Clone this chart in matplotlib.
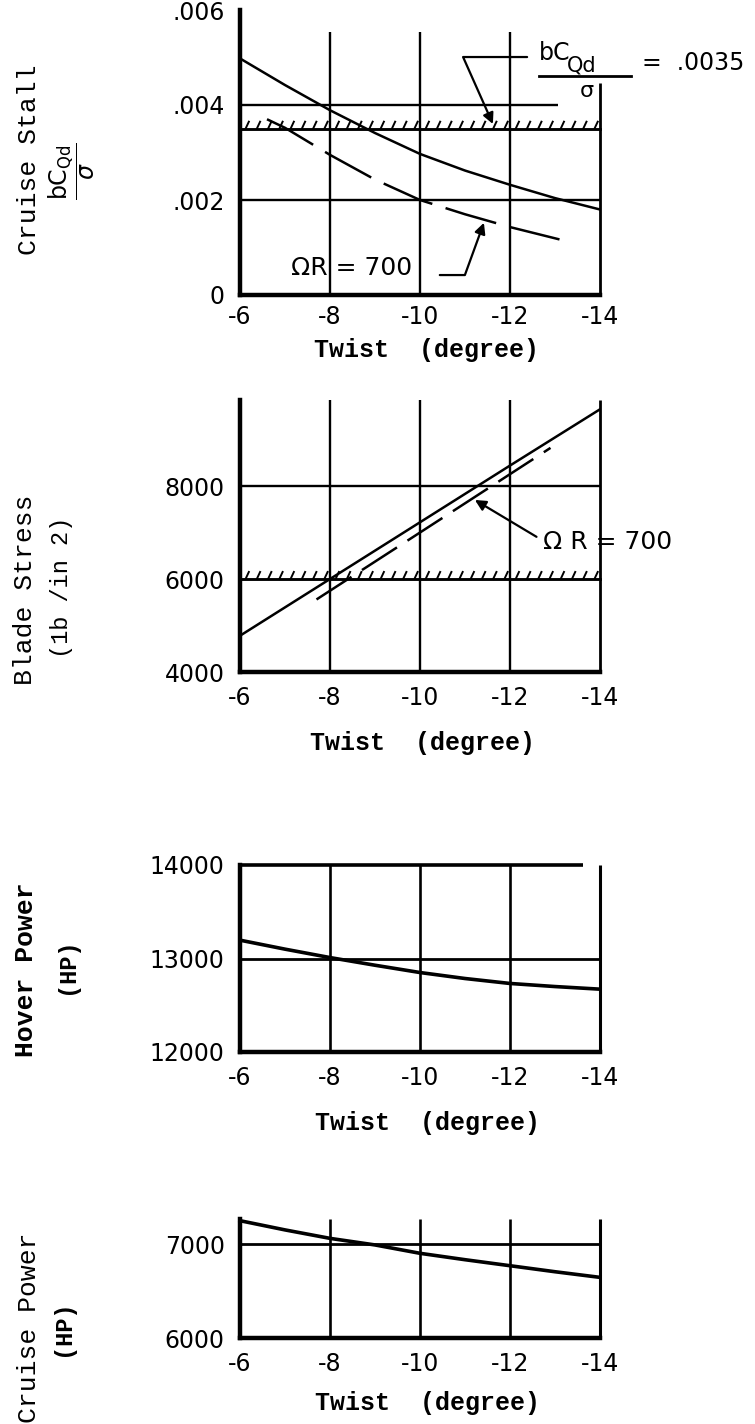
import numpy as np
import matplotlib
matplotlib.use('Agg')
import matplotlib.pyplot as plt
from matplotlib import patheffects
from matplotlib.lines import Line2D

W, H = 755, 1424

# shared x axis (blade twist, degree)
twist_ticks = [-6, -8, -10, -12, -14]
twist_labels = ['-6', '-8', '-10', '-12', '-14']

# cruise stall bCQd/sigma
stall_twist = [-6, -7, -8, -9, -10, -11, -12, -13, -14]
stall_val = [0.00498, 0.00442, 0.00389, 0.00341, 0.00297, 0.00262, 0.00232, 0.00204, 0.00180]
stall700_twist = [-6.6, -7, -8, -9, -10, -11, -12, -13.1]
stall700_val = [0.00370, 0.00352, 0.00295, 0.00243, 0.00200, 0.00170, 0.00143, 0.00117]
stall_limit = 0.0035
stall_ticks = [0, 0.002, 0.004, 0.006]
stall_labels = ['0', '.002', '.004', '.006']

# blade stress (lb/in^2)
stress_twist = [-6, -8, -10, -12, -14]
stress_val = [4780, 6000, 7220, 8440, 9650]
stress700_twist = [-7.7, -10, -12.9]
stress700_val = [5560, 7000, 8820]
stress_limit = 6000
stress_ticks = [4000, 6000, 8000]
stress_labels = ['4000', '6000', '8000']

# hover power (HP)
hover_twist = [-6, -7, -8, -9, -10, -11, -12, -13, -14]
hover_val = [13196, 13100, 13010, 12928, 12850, 12786, 12733, 12700, 12672]
hover_ticks = [12000, 13000, 14000]
hover_labels = ['12000', '13000', '14000']

# cruise power (HP)
cruise_twist = [-6, -7, -8, -9, -10, -11, -12, -13, -14]
cruise_val = [7248, 7150, 7060, 6990, 6901, 6833, 6769, 6705, 6645]
cruise_ticks = [6000, 7000]
cruise_labels = ['6000', '7000']

plt.rcParams['font.family'] = ['DejaVu Sans']
plt.rcParams['lines.scale_dashes'] = False
MONO = ['Liberation Mono', 'DejaVu Sans Mono']

fig = plt.figure(figsize=(W / 100, H / 100), dpi=100)


def fx(px):
    return px / W


def fy(py):
    return 1 - py / H


def px_axes(x0, y0, x1, y1):
    return fig.add_axes([x0 / W, 1 - y1 / H, (x1 - x0) / W, (y1 - y0) / H])


def setup(ax, ylim, yticks, ylabels, xpad=10):
    ax.set_xlim(-6, -14)
    ax.set_ylim(*ylim)
    ax.set_xticks(twist_ticks, twist_labels)
    ax.set_yticks(yticks, ylabels)
    ax.tick_params(axis='x', length=0, labelsize=17, pad=xpad)
    ax.tick_params(axis='y', length=0, labelsize=17, pad=11)
    for s in ['top', 'right']:
        ax.spines[s].set_visible(False)
    for s in ['left', 'bottom']:
        ax.spines[s].set_linewidth(3.2)
    ax.patch.set_visible(False)


def xlabel(ax, x, y):
    ax.set_xlabel('Twist  (degree)', fontsize=18, family=MONO, fontweight='bold')
    ax.xaxis.set_label_coords(x, y)
    ax.xaxis.label.set_va('center')


def hatched(ax, y, x0=-6, x1=-14):
    ax.plot([x0, x1], [y, y], color='k', lw=1.8, clip_on=False,
            path_effects=[patheffects.withTickedStroke(angle=65, spacing=8, length=0.7, linewidth=1.4),
                          patheffects.Normal()])


# ---------------- panel 1: cruise stall ----------------
ax1 = px_axes(240, 10, 600, 295)
setup(ax1, (0, 0.006), stall_ticks, stall_labels, xpad=7)
ax1.vlines(twist_ticks[1:4], 0, 0.00554, color='k', lw=1.7)
ax1.vlines(twist_ticks[-1], 0, 0.00446, color='k', lw=2, clip_on=False)
ax1.hlines(0.004, -6, -13.07, color='k', lw=1.7)
ax1.hlines(0.002, -6, -14, color='k', lw=1.7)
hatched(ax1, stall_limit)
ax1.plot(stall_twist, stall_val, color='k', lw=1.8)
ax1.plot(stall700_twist, stall700_val, color='k', lw=1.8, dashes=(38, 10))
ax1.text(-8.49, 0.00057, 'ΩR = 700', fontsize=18, ha='center', va='center')
ax1.annotate('', xy=(-11.42, 0.00152), xytext=(-10.44, 0.00042),
             arrowprops=dict(arrowstyle='-|>', color='k', lw=1.6, mutation_scale=16,
                             shrinkA=0, shrinkB=0,
                             connectionstyle='angle,angleA=0,angleB=70,rad=0'))
ax1.annotate('', xy=(-11.62, 0.0036), xytext=(-12.38, 0.00501),
             arrowprops=dict(arrowstyle='-|>', color='k', lw=1.6, mutation_scale=16,
                             shrinkA=0, shrinkB=0,
                             connectionstyle='angle,angleA=180,angleB=114,rad=0'))
fig.text(fx(539), fy(53), 'bC', fontsize=17, ha='left', va='center')
fig.text(fx(567), fy(65), 'Qd', fontsize=15, ha='left', va='center')
fig.add_artist(Line2D([fx(539), fx(631)], [fy(76), fy(76)], color='k', lw=2))
fig.text(fx(587), fy(91), 'σ', fontsize=16, ha='center', va='center')
fig.text(fx(642), fy(63), '=  .0035', fontsize=17, ha='left', va='center')
xlabel(ax1, 0.517, -0.193)
fig.text(fx(29), fy(160), 'Cruise Stall', rotation=90, fontsize=19, family=MONO,
         ha='center', va='center')
fig.text(fx(72), fy(171), r'$\dfrac{\mathrm{bC_{Qd}}}{\sigma}$', rotation=90, fontsize=17,
         ha='center', va='center')

# ---------------- panel 2: blade stress ----------------
ax2 = px_axes(240, 400, 600, 672)
setup(ax2, (4000, 9850), stress_ticks, stress_labels)
ax2.vlines(twist_ticks[1:4], 4000, 9850, color='k', lw=1.7)
ax2.vlines(twist_ticks[-1], 4000, 9850, color='k', lw=2, clip_on=False)
ax2.hlines(8000, -6, -14, color='k', lw=1.7)
hatched(ax2, stress_limit)
ax2.plot(stress_twist, stress_val, color='k', lw=1.8)
ax2.plot(stress700_twist, stress700_val, color='k', lw=1.8, dashes=(30, 9))
ax2.annotate('Ω R = 700', xy=(-11.22, 7700), xytext=(-12.73, 6800),
             fontsize=18, ha='left', va='center',
             arrowprops=dict(arrowstyle='-|>', color='k', lw=1.6, mutation_scale=16,
                             shrinkA=3, shrinkB=0, relpos=(0, 0.55)))
xlabel(ax2, 0.508, -0.261)
fig.text(fx(25), fy(590), 'Blade Stress', rotation=90, fontsize=19, family=MONO,
         ha='center', va='center')
fig.text(fx(62), fy(587), '(1b /in 2)', rotation=90, fontsize=17, family=MONO,
         ha='center', va='center')

# ---------------- panel 3: hover power ----------------
ax3 = px_axes(240, 865, 600, 1052)
setup(ax3, (12000, 14000), hover_ticks, hover_labels)
ax3.vlines(twist_ticks[1:4], 12000, 14000, color='k', lw=1.9)
ax3.vlines(twist_ticks[-1], 12000, 14000, color='k', lw=2.2, clip_on=False)
ax3.hlines(13000, -6, -14, color='k', lw=2)
ax3.hlines(14000, -6, -13.62, color='k', lw=2.6, clip_on=False)
ax3.plot(hover_twist, hover_val, color='k', lw=2.6)
xlabel(ax3, 0.52, -0.38)
fig.text(fx(26), fy(970), 'Hover Power', rotation=90, fontsize=19, family=MONO,
         fontweight='bold', ha='center', va='center')
fig.text(fx(67), fy(966), '(HP)', rotation=90, fontsize=17, family=MONO,
         fontweight='bold', ha='center', va='center')

# ---------------- panel 4: cruise power ----------------
ax4 = px_axes(240, 1219, 600, 1338)
setup(ax4, (6000, 7266), cruise_ticks, cruise_labels)
ax4.vlines(twist_ticks[1:4], 6000, 7266, color='k', lw=1.9)
ax4.vlines(twist_ticks[-1], 6000, 7266, color='k', lw=2.2, clip_on=False)
ax4.hlines(7000, -6, -14, color='k', lw=2)
ax4.plot(cruise_twist, cruise_val, color='k', lw=2.6, clip_on=False)
xlabel(ax4, 0.52, -0.546)
fig.text(fx(29), fy(1328), 'Cruise Power', rotation=90, fontsize=19, family=MONO,
         ha='center', va='center')
fig.text(fx(63), fy(1328), '(HP)', rotation=90, fontsize=17, family=MONO,
         fontweight='bold', ha='center', va='center')

fig.savefig('out.png', dpi=100, facecolor='white')
